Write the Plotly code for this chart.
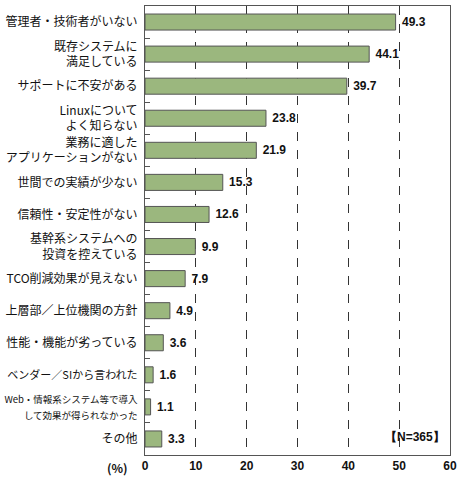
import plotly.graph_objects as go

# Reasons (top to bottom) and share of respondents in %
reasons = [
    "管理者・技術者がいない",
    "既存システムに<br>満足している",
    "サポートに不安がある",
    "Linuxについて<br>よく知らない",
    "業務に適した<br>アプリケーションがない",
    "世間での実績が少ない",
    "信頼性・安定性がない",
    "基幹系システムへの<br>投資を控えている",
    "TCO削減効果が見えない",
    "上層部／上位機関の方針",
    "性能・機能が劣っている",
    "<span style='font-size:11px'>ベンダー／SIから言われた</span>",
    "<span style='font-size:9.5px'>Web・情報系システム等で導入<br>して効果が得られなかった</span>",
    "その他",
]
share = [49.3, 44.1, 39.7, 23.8, 21.9, 15.3, 12.6, 9.9, 7.9, 4.9, 3.6, 1.6, 1.1, 3.3]
x_ticks = [0, 10, 20, 30, 40, 50, 60]

fig = go.Figure(go.Bar(
    x=share, y=reasons, orientation="h",
    marker=dict(color="#9bb77e", line=dict(color="#555555", width=1)),
    width=0.5,
    text=[" " + str(v) for v in share],
    textposition="outside",
    textfont=dict(family="Liberation Sans", size=12, color="#111111", weight="bold"),
    cliponaxis=False,
))

fig.update_layout(
    width=460, height=480,
    margin=dict(l=145, r=10, t=6, b=25),
    plot_bgcolor="white", paper_bgcolor="white",
    showlegend=False,
    font=dict(family="Noto Sans CJK JP", size=12, color="#111111"),
)
fig.update_xaxes(
    range=[0, 60], tickvals=x_ticks, automargin=False,
    showgrid=True, gridcolor="#333333", griddash="dash", gridwidth=1,
    zeroline=False, showline=True, mirror=True, linecolor="#555555", linewidth=1,
    ticks="", tickfont=dict(family="Liberation Sans", size=12, weight="bold"),
)
fig.update_yaxes(
    autorange="reversed", automargin=False,
    showline=True, mirror=True, linecolor="#555555", linewidth=1,
    ticks="inside", tickson="boundaries", ticklen=5, tickcolor="#555555",
    ticklabelstandoff=4, tickfont=dict(size=12),
)
fig.add_annotation(text="(%)", xref="paper", yref="paper", x=-0.05, y=0,
                   yshift=-12, xanchor="right", yanchor="middle", showarrow=False,
                   font=dict(family="Noto Sans CJK JP", size=12, weight="bold"))
fig.add_annotation(text="【N=365】", xref="paper", yref="paper", x=0.99, y=0.02,
                   xanchor="right", yanchor="bottom", showarrow=False,
                   font=dict(family="Liberation Sans", size=12, weight="bold"))

# drop the page's default body margin so the chart sits at the window's corner
fig.write_html("out.html", config={"displayModeBar": False},
               post_script="document.body.style.margin = '0';")
